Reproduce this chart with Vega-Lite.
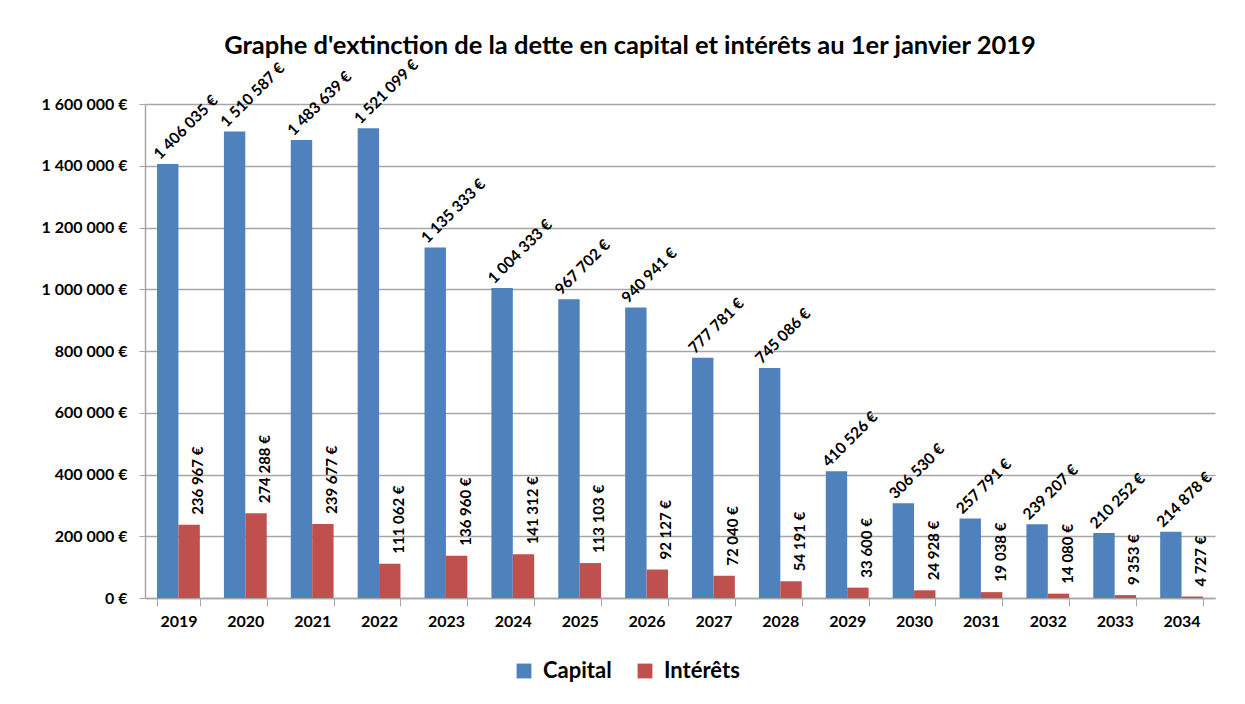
{
  "$schema": "https://vega.github.io/schema/vega-lite/v6.json",
  "width": 1070,
  "height": 494,
  "autosize": {"type": "none"},
  "padding": {"left": 145, "top": 104, "right": 30, "bottom": 106},
  "background": "white",
  "config": {
    "font": "Lato",
    "locale": {"number": {"decimal": ",", "thousands": " ", "grouping": [3], "currency": ["", " €"]}},
    "view": {"stroke": null},
    "axis": {"labelFont": "Lato", "labelFontWeight": "bold", "labelColor": "#000000", "labelFontSize": 16}
  },
  "title": {
    "text": "Graphe d'extinction de la dette en capital et intérêts au 1er janvier 2019",
    "font": "Lato", "fontSize": 25.5, "fontWeight": "bold", "color": "#000000",
    "anchor": "middle", "offset": -2, "dx": -50
  },
  "data": {"values": [
    {"annee": "2019", "serie": "Capital", "montant": 1406035},
    {"annee": "2020", "serie": "Capital", "montant": 1510587},
    {"annee": "2021", "serie": "Capital", "montant": 1483639},
    {"annee": "2022", "serie": "Capital", "montant": 1521099},
    {"annee": "2023", "serie": "Capital", "montant": 1135333},
    {"annee": "2024", "serie": "Capital", "montant": 1004333},
    {"annee": "2025", "serie": "Capital", "montant": 967702},
    {"annee": "2026", "serie": "Capital", "montant": 940941},
    {"annee": "2027", "serie": "Capital", "montant": 777781},
    {"annee": "2028", "serie": "Capital", "montant": 745086},
    {"annee": "2029", "serie": "Capital", "montant": 410526},
    {"annee": "2030", "serie": "Capital", "montant": 306530},
    {"annee": "2031", "serie": "Capital", "montant": 257791},
    {"annee": "2032", "serie": "Capital", "montant": 239207},
    {"annee": "2033", "serie": "Capital", "montant": 210252},
    {"annee": "2034", "serie": "Capital", "montant": 214878},
    {"annee": "2019", "serie": "Intérêts", "montant": 236967},
    {"annee": "2020", "serie": "Intérêts", "montant": 274288},
    {"annee": "2021", "serie": "Intérêts", "montant": 239677},
    {"annee": "2022", "serie": "Intérêts", "montant": 111062},
    {"annee": "2023", "serie": "Intérêts", "montant": 136960},
    {"annee": "2024", "serie": "Intérêts", "montant": 141312},
    {"annee": "2025", "serie": "Intérêts", "montant": 113103},
    {"annee": "2026", "serie": "Intérêts", "montant": 92127},
    {"annee": "2027", "serie": "Intérêts", "montant": 72040},
    {"annee": "2028", "serie": "Intérêts", "montant": 54191},
    {"annee": "2029", "serie": "Intérêts", "montant": 33600},
    {"annee": "2030", "serie": "Intérêts", "montant": 24928},
    {"annee": "2031", "serie": "Intérêts", "montant": 19038},
    {"annee": "2032", "serie": "Intérêts", "montant": 14080},
    {"annee": "2033", "serie": "Intérêts", "montant": 9353},
    {"annee": "2034", "serie": "Intérêts", "montant": 4727}
  ]},
  "encoding": {
    "x": {
      "field": "annee", "type": "nominal", "title": null,
      "scale": {"paddingInner": 0.36, "paddingOuter": 0.18},
      "axis": {"labelAngle": 0, "tickBand": "extent", "tickSize": 8, "tickColor": "#a6a6a6", "domainColor": "#a6a6a6", "domainWidth": 1.5, "labelPadding": 7, "grid": false}
    },
    "xOffset": {"field": "serie", "type": "nominal", "sort": ["Capital", "Intérêts"], "scale": {"paddingInner": 0, "paddingOuter": 0}},
    "y": {
      "field": "montant", "type": "quantitative", "title": null,
      "scale": {"domain": [0, 1600000], "nice": false},
      "axis": {"format": "$,.0f", "labelOverlap": false, "values": [0, 200000, 400000, 600000, 800000, 1000000, 1200000, 1400000, 1600000], "gridColor": "#a6a6a6", "gridWidth": 1.5, "domainColor": "#a6a6a6", "domainWidth": 1.5, "tickColor": "#a6a6a6", "tickSize": 6, "labelPadding": 12}
    }
  },
  "layer": [
    {
      "mark": {"type": "bar"},
      "encoding": {
        "color": {
          "field": "serie", "type": "nominal", "sort": ["Capital", "Intérêts"],
          "scale": {"domain": ["Capital", "Intérêts"], "range": ["#4F81BD", "#C0504D"]},
          "legend": {
            "title": null, "orient": "none", "direction": "horizontal", "legendX": 368, "legendY": 556,
            "labelFont": "Lato", "labelFontSize": 22, "labelFontWeight": "bold", "labelColor": "#000000",
            "symbolType": "square", "symbolSize": 220, "symbolStrokeWidth": 0, "columnPadding": 22, "labelOffset": 8
          }
        }
      }
    },
    {
      "transform": [{"filter": "datum.serie === 'Capital'"}],
      "mark": {"type": "text", "angle": -45, "align": "left", "baseline": "middle", "dx": -3, "dy": -13, "font": "Lato", "fontSize": 15.5, "fontWeight": "bold", "color": "#000000"},
      "encoding": {"text": {"field": "montant", "type": "quantitative", "format": "$,.0f"}}
    },
    {
      "transform": [{"filter": "datum.serie === 'Intérêts'"}],
      "mark": {"type": "text", "angle": -90, "align": "left", "baseline": "middle", "dx": 10, "dy": 9, "font": "Lato", "fontSize": 15, "fontWeight": "bold", "color": "#000000"},
      "encoding": {"text": {"field": "montant", "type": "quantitative", "format": "$,.0f"}}
    }
  ]
}
